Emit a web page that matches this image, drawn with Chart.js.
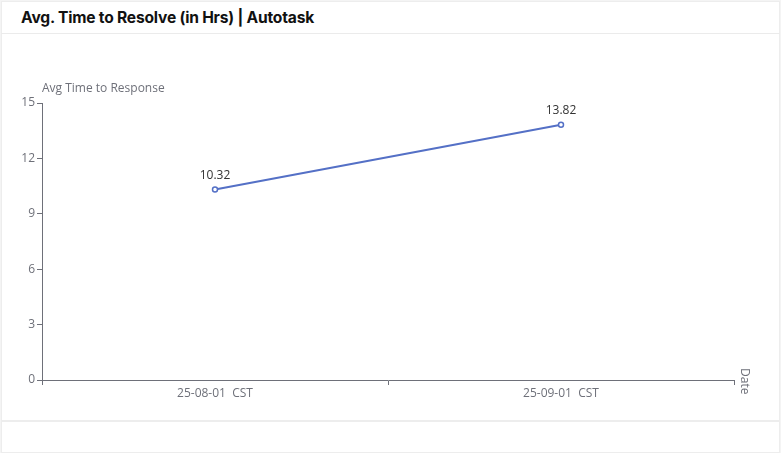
<!DOCTYPE html>
<html>
<head>
<meta charset="utf-8">
<script src="https://cdn.jsdelivr.net/npm/chart.js@4.4.1/dist/chart.umd.min.js"></script>
<style>
  html,body{margin:0;padding:0;width:781px;height:453px;overflow:hidden;background:#f4f4f4;}
  #card{position:absolute;left:1px;top:1px;width:777px;height:418px;background:#fff;border:1px solid #ededed;}
  #card2{position:absolute;left:1px;top:421px;width:777px;height:30px;background:#fff;border:1px solid #ededed;}
  #title{position:absolute;left:21px;top:8px;font-family:Inter,"Noto Sans",sans-serif;font-weight:700;font-size:15.6px;color:#111;letter-spacing:-0.2px;}
  #sep{position:absolute;left:1px;top:33px;width:779px;height:1px;background:#ebebeb;}
  #c{position:absolute;left:0;top:0;}
</style>
</head>
<body>
<div id="card"></div>
<div id="card2"></div>
<div id="sep"></div>
<div id="title">Avg. Time to Resolve (in Hrs) | Autotask</div>
<canvas id="c" width="781" height="453"></canvas>
<script>
const categories = ["25-08-01  CST", "25-09-01  CST"];
const avgTimeValues = [10.32, 13.82];
const yTicks = [0, 3, 6, 9, 12, 15];
const yAxisName = "Avg Time to Response";
const xAxisName = "Date";

const axisColor = "#6e7079";
const fontFamily = "'Open Sans','Noto Sans',sans-serif";

const extras = {
  id: 'extras',
  afterDatasetsDraw(chart) {
    const ctx = chart.ctx;
    const meta = chart.getDatasetMeta(0);
    ctx.save();
    ctx.font = "12px " + fontFamily;
    ctx.fillStyle = "#333";
    ctx.textAlign = "center";
    ctx.textBaseline = "bottom";
    meta.data.forEach((pt, i) => {
      ctx.fillText(String(avgTimeValues[i]), pt.x, pt.y - 8);
    });
    const ca = chart.chartArea;
    ctx.fillStyle = axisColor;
    ctx.textAlign = "left";
    ctx.textBaseline = "bottom";
    ctx.fillText(yAxisName, ca.left, ca.top - 8);
    ctx.translate(ca.right + 10, ca.bottom - 12);
    ctx.rotate(Math.PI / 2);
    ctx.textBaseline = "middle";
    ctx.fillText(xAxisName, 0, 0);
    ctx.restore();
  }
};

new Chart(document.getElementById('c'), {
  type: 'line',
  data: {
    labels: categories,
    datasets: [{
      data: avgTimeValues,
      borderColor: '#5470c6',
      borderWidth: 2,
      pointRadius: 2.5,
      pointBorderWidth: 1.5,
      pointBackgroundColor: '#fff',
      pointBorderColor: '#5470c6',
      tension: 0
    }]
  },
  options: {
    responsive: false,
    animation: false,
    devicePixelRatio: 1,
    layout: { padding: { top: 103, right: 47, left: 0, bottom: 0 } },
    plugins: { legend: { display: false }, tooltip: { enabled: false }, title: { display: false } },
    scales: {
      x: {
        type: 'category',
        offset: true,
        grid: { offset: true, drawOnChartArea: false, drawTicks: true, tickLength: 5, tickColor: axisColor, tickWidth: 1 },
        border: { display: true, color: axisColor, width: 1 },
        ticks: { color: axisColor, font: { family: fontFamily, size: 12 }, padding: 1, maxRotation: 0, autoSkip: false },
        afterFit(scale) { scale.height = 73; }
      },
      y: {
        min: 0, max: 15,
        afterBuildTicks(scale) { scale.ticks = yTicks.map(v => ({ value: v })); },
        grid: { drawOnChartArea: false, drawTicks: true, tickLength: 5, tickColor: axisColor, tickWidth: 1 },
        border: { display: true, color: axisColor, width: 1 },
        ticks: { color: axisColor, font: { family: fontFamily, size: 12 }, padding: 2 },
        afterFit(scale) { scale.width = 42; }
      }
    }
  },
  plugins: [extras]
});
</script>
</body>
</html>
